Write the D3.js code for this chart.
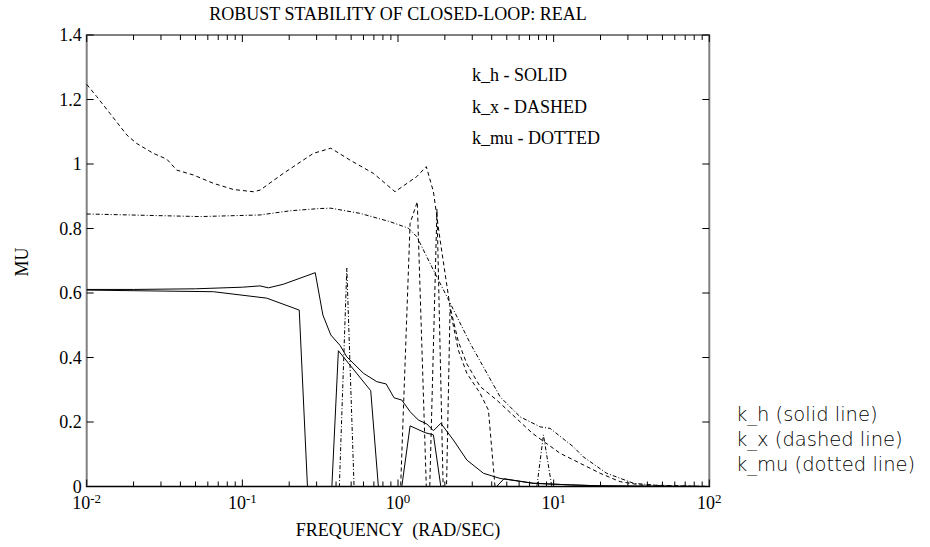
<!DOCTYPE html>
<html>
<head>
<meta charset="utf-8">
<script src="https://cdn.jsdelivr.net/npm/d3@7"></script>
<style>
  body { margin: 0; background: #fff; }
  svg text { font-family: "Liberation Serif", "Times New Roman", serif; fill: #000; }
  svg text.side { font-family: "DejaVu Sans", sans-serif; font-weight: 300; }
</style>
</head>
<body>
<div class="chart"></div>
<script>
// frequency (rad/sec) and mu values
var khUpFreq = [0.01, 0.02, 0.05, 0.1, 0.13, 0.147, 0.183, 0.294, 0.329, 0.37, 0.425, 0.469, 0.6, 0.731, 0.839, 0.944, 1.058, 1.196, 1.352, 1.531, 1.689, 1.884, 2.27, 2.77, 3.54, 4.53, 7.38, 12.8, 20, 36, 100];
var khUpMu   = [0.611, 0.611, 0.613, 0.618, 0.622, 0.616, 0.627, 0.663, 0.532, 0.47, 0.437, 0.402, 0.351, 0.325, 0.318, 0.275, 0.268, 0.232, 0.206, 0.194, 0.173, 0.196, 0.144, 0.082, 0.041, 0.025, 0.01, 0.005, 0.002, 0.001, 0];
var khLoFreq = [0.01, 0.0652, 0.1436, 0.232, 0.262, 0.376, 0.414, 0.668, 0.748, 1.058, 1.196, 1.493, 1.689, 1.884, 4.3, 4.8, 7.38, 12.8, 20, 36, 100];
var khLoMu   = [0.609, 0.604, 0.584, 0.547, 0, 0, 0.421, 0.297, 0, 0, 0.188, 0.167, 0.16, 0, 0, 0.024, 0.01, 0.005, 0.002, 0.001, 0];

var kxUpFreq = [0.01, 0.0116, 0.0141, 0.0181, 0.0209, 0.0268, 0.0327, 0.0379, 0.0484, 0.0652, 0.0875, 0.1178, 0.13, 0.1834, 0.286, 0.37, 0.492, 0.695, 0.957, 1.32, 1.52, 1.689, 1.866, 2.16, 2.44, 2.77, 3.37, 4.31, 7.3, 11, 14.8, 19.9, 26.7, 36, 100];
var kxUpMu   = [1.247, 1.209, 1.157, 1.09, 1.064, 1.033, 1.015, 0.981, 0.966, 0.94, 0.921, 0.914, 0.919, 0.971, 1.033, 1.049, 1.012, 0.971, 0.914, 0.961, 0.992, 0.914, 0.763, 0.557, 0.45, 0.38, 0.31, 0.268, 0.165, 0.103, 0.072, 0.041, 0.015, 0.005, 0];
var kxLoFreq = [0.01, 1.04, 1.196, 1.33, 1.52, 1.6, 1.78, 1.95, 2.05, 2.16, 2.44, 2.77, 3.37, 3.81, 4.2, 100];
var kxLoMu   = [0, 0, 0.816, 0.883, 0, 0, 0.86, 0, 0, 0.55, 0.423, 0.351, 0.289, 0.237, 0, 0];

var kmuUpFreq = [0.01, 0.0535, 0.13, 0.203, 0.316, 0.37, 0.57, 0.889, 1.167, 1.32, 1.689, 2.06, 2.91, 4.53, 6.09, 8.19, 9.5, 13.4, 15.5, 21.9, 32.6, 50, 100];
var kmuUpMu   = [0.845, 0.837, 0.842, 0.855, 0.862, 0.863, 0.847, 0.821, 0.801, 0.775, 0.671, 0.589, 0.444, 0.278, 0.216, 0.185, 0.18, 0.123, 0.092, 0.041, 0.01, 0.002, 0];
var kmuLoFreq = [0.01, 0.42, 0.469, 0.522, 7.8, 8.6, 9.73, 100];
var kmuLoMu   = [0, 0, 0.677, 0, 0, 0.16, 0, 0];

var yTicks = [0, 0.2, 0.4, 0.6, 0.8, 1, 1.2, 1.4];
var yTickLabels = ["0", "0.2", "0.4", "0.6", "0.8", "1", "1.2", "1.4"];
var xDecades = [0.01, 0.1, 1, 10, 100];
var xDecadeExp = ["-2", "-1", "0", "1", "2"];

var legendInside = ["k_h - SOLID", "k_x - DASHED", "k_mu - DOTTED"];
var legendSide = ["k_h (solid line)", "k_x (dashed line)", "k_mu (dotted line)"];

var w = 930, h = 547;
var plotL = 86.7, plotR = 709.3, plotT = 35, plotB = 486.5;

var svg = d3.select(".chart").append("svg")
  .attr("width", w).attr("height", h);

var x = d3.scaleLog().domain([0.01, 100]).range([plotL, plotR]);
var y = d3.scaleLinear().domain([0, 1.4]).range([plotB, plotT]);

// minor + major ticks on x (top and bottom, pointing inside)
var xTicks = [];
xDecades.forEach(function(d, i) {
  if (i < xDecades.length - 1) {
    for (var k = 1; k < 10; k++) xTicks.push({v: d * k, major: k == 1});
  } else xTicks.push({v: d, major: true});
});

var g = svg.append("g");

// frame
g.append("rect")
  .attr("x", plotL).attr("y", plotT)
  .attr("width", plotR - plotL).attr("height", plotB - plotT)
  .attr("fill", "none").attr("stroke", "#808080").attr("stroke-width", 2);
g.append("line")
  .attr("x1", plotL).attr("x2", plotR).attr("y1", plotB).attr("y2", plotB)
  .attr("stroke", "#000").attr("stroke-width", 1.2);

g.selectAll(".xtb").data(xTicks).enter().append("line")
  .attr("x1", function(d) { return x(d.v); })
  .attr("x2", function(d) { return x(d.v); })
  .attr("y1", plotB)
  .attr("y2", function(d) { return plotB - (d.major ? 7 : 5); })
  .attr("stroke", "#000");
g.selectAll(".xtt").data(xTicks).enter().append("line")
  .attr("x1", function(d) { return x(d.v); })
  .attr("x2", function(d) { return x(d.v); })
  .attr("y1", plotT)
  .attr("y2", function(d) { return plotT + (d.major ? 7 : 5); })
  .attr("stroke", "#000");

g.selectAll(".ytl").data(yTicks).enter().append("line")
  .attr("x1", plotL).attr("x2", plotL + 7)
  .attr("y1", function(d) { return y(d); })
  .attr("y2", function(d) { return y(d); })
  .attr("stroke", "#000");
g.selectAll(".ytr").data(yTicks).enter().append("line")
  .attr("x1", plotR).attr("x2", plotR - 7)
  .attr("y1", function(d) { return y(d); })
  .attr("y2", function(d) { return y(d); })
  .attr("stroke", "#000");

// tick labels
g.selectAll(".ylab").data(yTicks).enter().append("text")
  .attr("x", plotL - 5)
  .attr("y", function(d) { return y(d) + 6; })
  .attr("text-anchor", "end")
  .attr("font-size", 18)
  .text(function(d, i) { return yTickLabels[i]; });

var xl = g.selectAll(".xlab").data(xDecades).enter().append("text")
  .attr("x", function(d) { return x(d); })
  .attr("y", plotB + 22)
  .attr("text-anchor", "middle")
  .attr("font-size", 18);
xl.append("tspan").text("10");
xl.append("tspan").attr("font-size", 13).attr("dy", -6)
  .text(function(d, i) { return xDecadeExp[i]; });

// curves
var line = d3.line()
  .x(function(d) { return x(d[0]); })
  .y(function(d) { return y(d[1]); });

function pairs(f, m) { return f.map(function(v, i) { return [v, m[i]]; }); }

var series = [
  {data: pairs(khUpFreq, khUpMu), dash: null},
  {data: pairs(khLoFreq, khLoMu), dash: null},
  {data: pairs(kxUpFreq, kxUpMu), dash: "4,3"},
  {data: pairs(kxLoFreq, kxLoMu), dash: "4,3"},
  {data: pairs(kmuUpFreq, kmuUpMu), dash: "4,2,1,2"},
  {data: pairs(kmuLoFreq, kmuLoMu), dash: "4,2,1,2"}
];

g.selectAll(".curve").data(series).enter().append("path")
  .attr("d", function(d) { return line(d.data); })
  .attr("fill", "none")
  .attr("stroke", "#000")
  .attr("stroke-width", 1)
  .attr("stroke-dasharray", function(d) { return d.dash; });

// titles
svg.append("text")
  .attr("x", 398).attr("y", 20)
  .attr("text-anchor", "middle").attr("font-size", 18)
  .text("ROBUST STABILITY OF CLOSED-LOOP: REAL");
svg.append("text")
  .attr("x", 398).attr("y", 536)
  .attr("text-anchor", "middle").attr("font-size", 18)
  .attr("xml:space", "preserve")
  .text("FREQUENCY  (RAD/SEC)");
svg.append("text")
  .attr("transform", "translate(28,262) rotate(-90)")
  .attr("text-anchor", "middle").attr("font-size", 18)
  .text("MU");

// legend inside the plot
svg.selectAll(".leg").data(legendInside).enter().append("text")
  .attr("x", 472)
  .attr("y", function(d, i) { return 81 + i * 31.5; })
  .attr("font-size", 18)
  .text(function(d) { return d; });

// legend at the right
svg.selectAll(".side").data(legendSide).enter().append("text")
  .attr("class", "side")
  .attr("x", 736)
  .attr("y", function(d, i) { return 421 + i * 25; })
  .attr("font-size", 19.5)
  .text(function(d) { return d; });
</script>
</body>
</html>
